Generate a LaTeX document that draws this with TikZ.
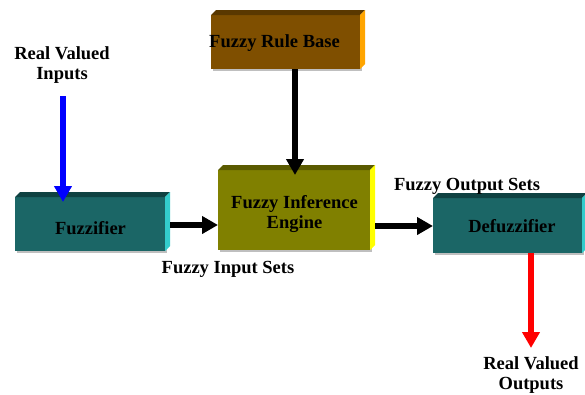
\documentclass[tikz,border=0pt]{standalone}
\usepackage{fontspec}
\setmainfont{Liberation Serif}
\usetikzlibrary{arrows.meta}
\definecolor{rbfront}{HTML}{7F4F00}
\definecolor{rbtop}{HTML}{5A3800}
\definecolor{rbside}{HTML}{FFA500}
\definecolor{tlfront}{HTML}{1B6666}
\definecolor{tltop}{HTML}{0F4242}
\definecolor{tlside}{HTML}{33CCCC}
\definecolor{olfront}{HTML}{808000}
\definecolor{oltop}{HTML}{5A5A00}
\definecolor{olside}{HTML}{FFFF00}
\tikzset{
  face/.style={inner sep=0pt, outer sep=0pt, draw=none},
  lbl/.style={font=\bfseries\fontsize{18.5}{19.5}\selectfont, align=center, inner sep=0pt},
  conn/.style={line width=5.5pt, -{Triangle[width=17pt,length=16pt]}},
}
% #1 name, #2 top color, #3 side color
\newcommand{\boxdepth}[3]{%
  \fill[#2] (#1.north west) -- ++(5pt,5pt) -- ([shift={(5pt,5pt)}]#1.north east) -- (#1.north east) -- cycle;
  \fill[#3] (#1.north east) -- ++(5pt,5pt) -- ([shift={(5pt,5pt)}]#1.south east) -- (#1.south east) -- cycle;
}
\begin{document}
\begin{tikzpicture}[x=1pt,y=-1pt]
\useasboundingbox (0,0) rectangle (585,394);
\fill[white] (0,0) rectangle (585,394);
% shadows
\fill[black!25] (213,17) rectangle (362,71);
\fill[black!25] (17,199) rectangle (167,253);
\fill[black!25] (220,172) rectangle (372,252);
\fill[black!25] (435,200) rectangle (584,255);
% boxes
\node[face, fill=rbfront, minimum width=149pt, minimum height=54pt] (rule) at (285.5,42) {};
\boxdepth{rule}{rbtop}{rbside}
\node[face, fill=tlfront, minimum width=150pt, minimum height=54pt] (fuzz) at (90,224) {};
\boxdepth{fuzz}{tltop}{tlside}
\node[face, fill=olfront, minimum width=152pt, minimum height=80pt] (eng) at (294,210) {};
\boxdepth{eng}{oltop}{olside}
\node[face, fill=tlfront, minimum width=149pt, minimum height=55pt] (defuzz) at (507.5,225.5) {};
\boxdepth{defuzz}{tltop}{tlside}
% box texts
\node[lbl] (ruletext) at (274.5,43) {Fuzzy Rule Base};
\node[lbl] (fuzztext) at (90.5,228) {Fuzzifier};
\node[lbl] (engtext) at (294.5,214) {Fuzzy Inference\\Engine};
\node[lbl] (defuzztext) at (512,226) {Defuzzifier};
% free labels
\node[lbl] (inlbl) at (62,65) {Real Valued\\Inputs};
\node[lbl] (outlbl) at (531,375) {Real Valued\\Outputs};
\node[lbl] (insets) at (228,269) {Fuzzy Input Sets};
\node[lbl] (outsets) at (467,186) {Fuzzy Output Sets};
% connectors
\coordinate (instart) at (63,96);
\coordinate (outend) at (531,348);
\draw[conn, blue] (instart) -- ([yshift=-5pt]fuzz.north -| instart);
\draw[conn, black] (rule.south -| 295,0) -- ([yshift=-5pt]eng.north -| 295,0);
\draw[conn, black] ([xshift=5pt]fuzz.east |- 0,225) -- (eng.west |- 0,225);
\draw[conn, black] ([xshift=5pt]eng.east |- 0,226) -- (defuzz.west |- 0,226);
\draw[conn, red] (defuzz.south -| outend) -- (outend);
\end{tikzpicture}
\end{document}
